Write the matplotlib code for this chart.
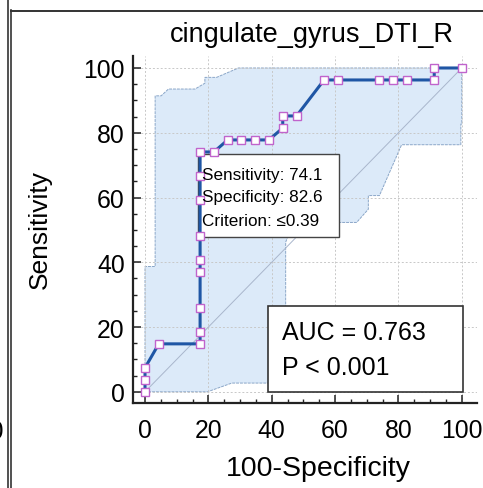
import matplotlib
matplotlib.use("Agg")
import matplotlib.pyplot as plt
from matplotlib.patches import Rectangle, Polygon
from matplotlib.lines import Line2D

plt.rcParams['font.family'] = ['Liberation Sans', 'DejaVu Sans']

title = "cingulate_gyrus_DTI_R"
x_label = "100-Specificity"
y_label = "Sensitivity"

# ROC curve points (100-Specificity, Sensitivity)
roc_x = [0, 0, 0, 4.35, 17.39, 17.39, 17.39, 17.39, 17.39, 17.39, 17.39, 17.39, 17.39,
         21.74, 26.09, 30.43, 34.78, 39.13, 43.48, 43.48, 47.83, 56.52, 60.87, 73.91,
         78.26, 82.61, 91.30, 91.30, 100]
roc_y = [0, 3.70, 7.41, 14.81, 14.81, 18.52, 25.93, 37.04, 40.74, 48.15, 59.26, 66.67, 74.07,
         74.07, 77.78, 77.78, 77.78, 77.78, 81.48, 85.19, 85.19, 96.30, 96.30, 96.30,
         96.30, 96.30, 96.30, 100, 100]

# confidence band boundaries
upper_x = [0, 0, 3.2, 3.2, 5.1, 7.4, 15.8, 18.9, 18.9, 22.6, 29.5, 100]
upper_y = [0, 38.7, 38.7, 91.4, 91.4, 93.5, 93.5, 95.3, 97.1, 97.1, 100, 100]
lower_x = [0, 19.7, 27.4, 44.4, 44.4, 46.8, 66.8, 70.5, 70.5, 74.0, 81.0, 99.7, 99.7, 100, 100]
lower_y = [0, 0, 2.7, 2.7, 46.2, 52.3, 52.3, 56.4, 60.6, 60.6, 76.3, 76.3, 82.7, 82.7, 100]

sens_txt = "Sensitivity: 74.1"
spec_txt = "Specificity: 82.6"
crit_txt = "Criterion: \u22640.39"
auc_txt = "AUC = 0.763"
p_txt = "P < 0.001"

ticks = [0, 20, 40, 60, 80, 100]

fig = plt.figure(figsize=(4.83, 4.89), dpi=100)
ax = fig.add_axes([133/483, 85.5/489, (477-133)/483, (432-85.5)/489])
ax.set_xlim(-3.79, 104.8)
ax.set_ylim(-3.3, 103.7)

# band
poly_pts = list(zip(upper_x, upper_y)) + list(zip(lower_x, lower_y))[::-1]
band = Polygon(poly_pts, closed=True, facecolor='#dceaf9', edgecolor='#8aa6c8',
               lw=0.7, linestyle=(0, (3, 1)), zorder=0.2)
ax.add_patch(band)

# diagonal
ax.plot([0, 100], [0, 100], color='#a9b6cc', lw=0.7, zorder=1)

# curve
ax.plot(roc_x, roc_y, color='#1f56a5', lw=2.2, zorder=4,
        marker='s', markersize=6.2, markerfacecolor='white',
        markeredgecolor='#c064cc', markeredgewidth=1.0)

# grid
ax.set_axisbelow(True)
ax.grid(True, color='#c8c8c8', lw=0.7, linestyle=(0, (2, 2)))

ax.set_xticks(ticks)
ax.set_yticks(ticks)
ax.set_xticks(range(0, 101, 5), minor=True)
ax.set_yticks(range(0, 101, 5), minor=True)
ax.tick_params(which='major', direction='in', length=6, width=1.1, labelsize=17.8, color='#222222')
ax.tick_params(which='minor', direction='in', length=3, width=1.0, color='#222222')
ax.tick_params(axis='x', which='major', pad=11)
ax.tick_params(axis='y', which='major', pad=6)

for s in ['top', 'right']:
    ax.spines[s].set_visible(False)
for s in ['left', 'bottom']:
    ax.spines[s].set_linewidth(1.6)
    ax.spines[s].set_color('#222222')

# criterion box
ax.add_patch(Rectangle((16.7, 47.8), 61.3 - 16.7, 73.4 - 47.8, facecolor='white',
                       edgecolor='#444444', lw=1.0, zorder=3))
ax.text(18.0, 67.0, sens_txt, fontsize=12.3, va='center', ha='left', zorder=5)
ax.text(18.0, 60.3, spec_txt, fontsize=12.3, va='center', ha='left', zorder=5)
ax.text(18.0, 52.9, crit_txt, fontsize=12.3, va='center', ha='left', zorder=5)

# AUC box
ax.add_patch(Rectangle((38.8, -0.1), 100.4 - 38.8, 26.5, facecolor='white',
                       edgecolor='#333333', lw=1.2, zorder=5, clip_on=False))
ax.text(43.2, 18.4, auc_txt, fontsize=18, va='center', ha='left', zorder=6)
ax.text(43.2, 7.6, p_txt, fontsize=18, va='center', ha='left', zorder=6)

fig.text(312/483, 1 - 35/489, title, fontsize=19.5, ha='center', va='center')
fig.text(318/483, 1 - 469/489, x_label, fontsize=20.5, ha='center', va='center')
fig.text(40/483, 1 - 230/489, y_label, fontsize=19, ha='center', va='center', rotation=90)

# frame lines of panel
fig.add_artist(Line2D([7.5/483, 7.5/483], [0, 1], color='#333333', lw=1.2))
fig.add_artist(Line2D([10.5/483, 10.5/483], [0, 1 - 11/489], color='#333333', lw=1.2))
fig.add_artist(Line2D([10.5/483, 1], [1 - 11.5/489, 1 - 11.5/489], color='#333333', lw=1.4))
fig.text(4/483, 1 - 432/489, "100", fontsize=17.8, ha='right', va='center')

fig.savefig("out.png", dpi=100)
